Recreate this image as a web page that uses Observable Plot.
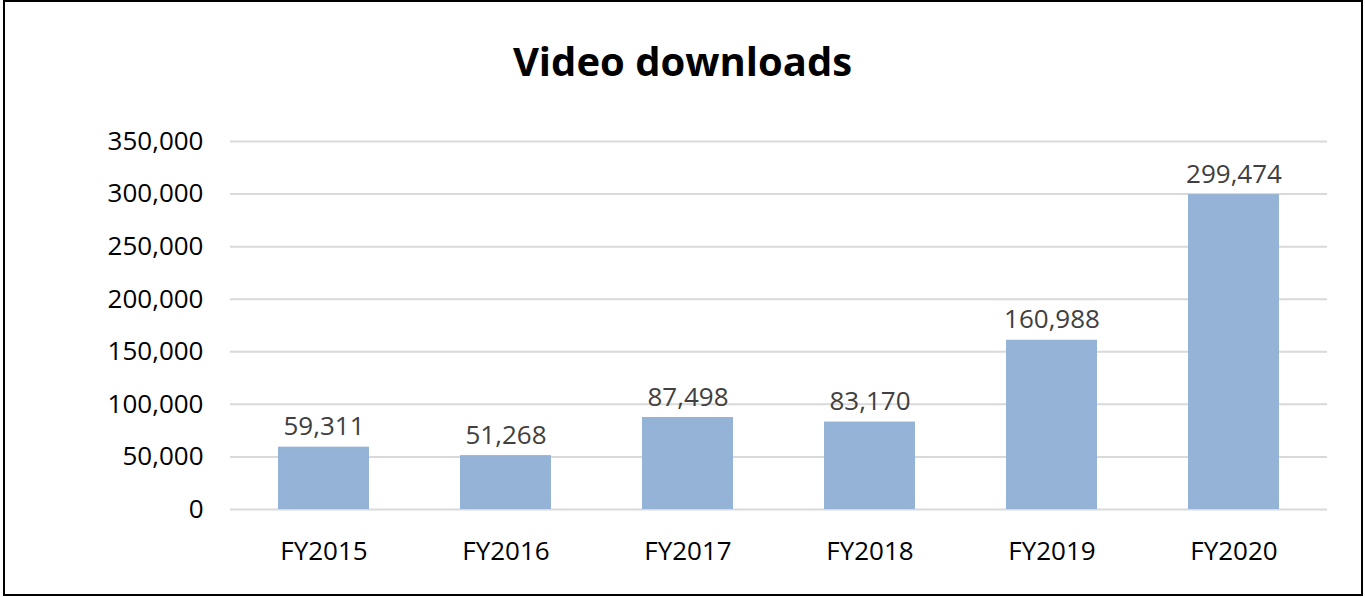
<!DOCTYPE html>
<html>
<head>
<meta charset="utf-8">
<script src="https://cdn.jsdelivr.net/npm/d3@7"></script>
<script src="https://cdn.jsdelivr.net/npm/@observablehq/plot@0.6"></script>
<style>
  html, body { margin: 0; padding: 0; background: #fff; }
  #frame { position: absolute; left: 3px; top: 0px; width: 1356px; height: 592px; border: 2px solid #000; box-sizing: content-box; }
  #title { position: absolute; left: 0; top: 37px; width: 1365px; text-align: center; font-family: "Open Sans", sans-serif; font-weight: bold; font-size: 40px; color: #000; line-height: 1.2; }
  #chart { position: absolute; left: 0; top: 0; }
</style>
</head>
<body>
<div id="frame"></div>
<div id="title">Video downloads</div>
<div id="chart"></div>
<script>
const categories = ["FY2015", "FY2016", "FY2017", "FY2018", "FY2019", "FY2020"];
const downloads = [59311, 51268, 87498, 83170, 160988, 299474];
const yTicks = [0, 50000, 100000, 150000, 200000, 250000, 300000, 350000];

const data = categories.map((c, i) => ({category: c, value: downloads[i]}));
const fmt = d3.format(",");

const chart = Plot.plot({
  width: 1365,
  height: 597,
  marginLeft: 230,
  marginRight: 38,
  marginTop: 141,
  marginBottom: 88,
  style: {fontFamily: "Open Sans, sans-serif", fontSize: "26px", background: "transparent", overflow: "visible"},
  x: {domain: categories, paddingInner: 0.5, paddingOuter: 0.25, label: null},
  y: {domain: [0, 350000], label: null},
  marks: [
    Plot.ruleY(yTicks, {stroke: "#D9D9D9", strokeWidth: 2}),
    Plot.barY(data, {x: "category", y: "value", fill: "#95B3D7"}),
    Plot.text(data, {x: "category", y: "value", text: d => fmt(d.value), lineAnchor: "bottom", dy: -12, fill: "#404040", fontSize: 26}),
    Plot.axisY(yTicks, {tickSize: 0, tickPadding: 27, tickFormat: fmt, fill: "#000", fontSize: 26, label: null}),
    Plot.axisX({tickSize: 0, tickPadding: 32, fill: "#000", fontSize: 26, label: null})
  ]
});
document.getElementById("chart").appendChild(chart);
</script>
</body>
</html>
